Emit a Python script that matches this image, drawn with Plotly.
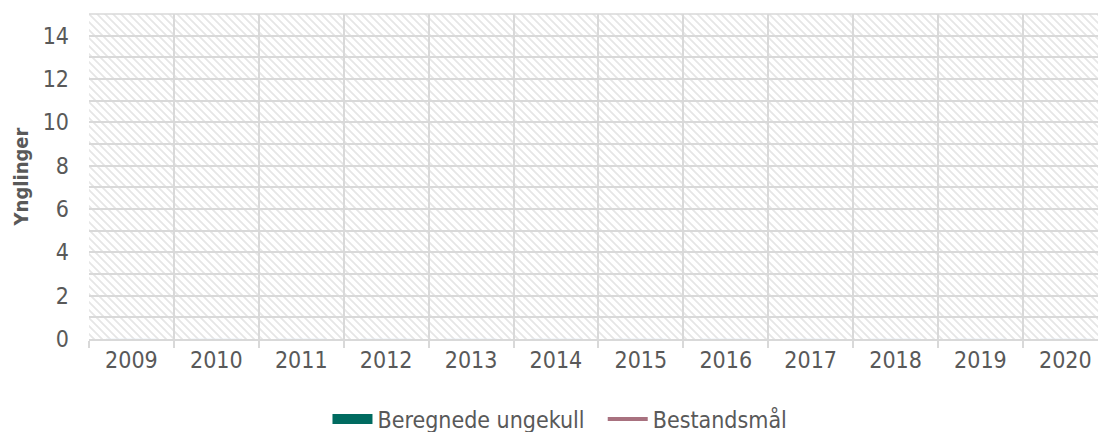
import base64
import plotly.graph_objects as go

years = ["2009", "2010", "2011", "2012", "2013", "2014", "2015", "2016", "2017", "2018", "2019", "2020"]
ungekull = [0, 0, 0, 0, 0, 0, 0, 0, 0, 0, 0, 0]
bestandsmal = [None, None, None, None, None, None, None, None, None, None, None, None]

W, H = 1098, 432
ML, MR, MT, MB = 89, 0, 14, 93
PW, PH = W - ML - MR, H - MT - MB

FONT = "DejaVu Sans Condensed, DejaVu Sans, sans-serif"
TXT = "#595959"
GRID = "#d9d9d9"
GREEN = "#006b60"
PINK = "#a8717f"

svg = f'''<svg xmlns="http://www.w3.org/2000/svg" width="{PW}" height="{PH}" viewBox="0 0 {PW} {PH}">
<defs><pattern id="p" patternUnits="userSpaceOnUse" width="8" height="8">
<path d="M-2,-2 L10,10 M-2,6 L2,10 M6,-2 L10,2" stroke="#e6e6e6" stroke-width="1.8"/>
</pattern></defs>
<rect width="{PW}" height="{PH}" fill="white"/>
<rect width="{PW}" height="{PH}" fill="url(#p)"/>
</svg>'''
uri = "data:image/svg+xml;base64," + base64.b64encode(svg.encode()).decode()

fig = go.Figure()
fig.add_trace(go.Bar(x=years, y=ungekull, name="Beregnede ungekull",
                     marker_color=GREEN, showlegend=False))
fig.add_trace(go.Scatter(x=years, y=bestandsmal, name="Bestandsmål", mode="lines",
                         line=dict(color=PINK, width=3), showlegend=False))
# legend entries
fig.add_trace(go.Scatter(x=[None], y=[None], mode="lines", name="Beregnede ungekull  ",
                         line=dict(color=GREEN, width=13)))
fig.add_trace(go.Scatter(x=[None], y=[None], mode="lines", name="Bestandsmål",
                         line=dict(color=PINK, width=4)))

catw = 84.9
xend = -0.5 + PW / catw

fig.update_layout(
    width=W, height=H,
    margin=dict(l=ML, r=MR, t=MT, b=MB, autoexpand=False),
    paper_bgcolor="white", plot_bgcolor="rgba(0,0,0,0)",
    font=dict(family=FONT, color=TXT, size=23),
    images=[dict(source=uri, xref="paper", yref="paper", x=0, y=1, sizex=1, sizey=1,
                 sizing="stretch", xanchor="left", yanchor="top", layer="below")],
    xaxis=dict(type="category", range=[-0.5, xend], tickson="boundaries", automargin=False,
               showgrid=True, gridcolor=GRID, gridwidth=1.5,
               ticks="outside", ticklen=7, tickcolor=GRID, tickwidth=1.5,
               showline=True, linecolor=GRID, linewidth=1.5,
               tickfont=dict(size=23, color=TXT), zeroline=False),
    yaxis=dict(range=[0, 15], dtick=2, tick0=0, showgrid=True, gridcolor=GRID, gridwidth=1.5,
               minor=dict(dtick=1, showgrid=True, gridcolor=GRID, gridwidth=1.5),
               zeroline=False, showline=False, ticks="", ticklabelstandoff=19, automargin=False,
               tickfont=dict(size=23, color=TXT),
               title=dict(text="<b>Ynglinger</b>", font=dict(size=20, color=TXT), standoff=8)),
    legend=dict(orientation="h", xref="container", yref="container", x=0.51, y=0.03,
                xanchor="center", yanchor="middle", font=dict(size=23, color=TXT),
                itemwidth=40, traceorder="normal"),
    shapes=[dict(type="line", xref="paper", yref="paper", x0=0, x1=1, y0=1, y1=1,
                 line=dict(color=GRID, width=1.5))],
    bargap=0.4,
)

fig.write_html("out.html", config={"displayModeBar": False},
               post_script="document.body.style.margin='0';document.body.style.overflow='hidden';")
